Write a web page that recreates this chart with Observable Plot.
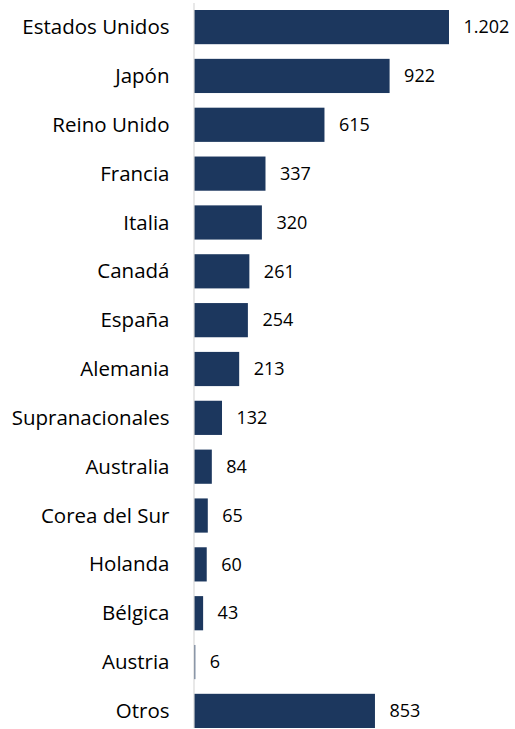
<!DOCTYPE html>
<html>
<head>
<meta charset="utf-8">
<script src="https://cdn.jsdelivr.net/npm/d3@7"></script>
<script src="https://cdn.jsdelivr.net/npm/@observablehq/plot@0.6"></script>
<style>
  html, body { margin: 0; padding: 0; background: #fff; }
  #chart svg { display: block; }
</style>
</head>
<body>
<div id="chart"></div>
<script>
const countries = ["Estados Unidos", "Japón", "Reino Unido", "Francia", "Italia", "Canadá", "España", "Alemania", "Supranacionales", "Australia", "Corea del Sur", "Holanda", "Bélgica", "Austria", "Otros"];
const values = [1202, 922, 615, 337, 320, 261, 254, 213, 132, 84, 65, 60, 43, 6, 853];

const data = countries.map((c, i) => ({country: c, value: values[i]}));
const fmt = d3.formatLocale({decimal: ",", thousands: ".", grouping: [3], currency: ["", "€"]}).format(",d");
const font = "'Open Sans', sans-serif";

const chart = Plot.plot({
  width: 515,
  height: 729,
  marginLeft: 194,
  marginRight: 66,
  marginTop: 10,
  marginBottom: 1,
  style: {fontFamily: font, background: "#fff"},
  x: {domain: [0, 1202], axis: null},
  y: {domain: countries, paddingInner: 0.3, paddingOuter: 0, round: false, axis: null},
  marks: [
    Plot.barX(data, {x: "value", y: "country", fill: "#1c375e"}),
    Plot.ruleX([0], {stroke: "#d9d9d9", strokeWidth: 1.2, dx: -0.5, insetTop: -7}),
    Plot.text(data, {x: 0, y: "country", text: "country", textAnchor: "end", dx: -25, fontSize: 20.5, fill: "#000"}),
    Plot.text(data, {x: "value", y: "country", text: d => fmt(d.value), textAnchor: "start", dx: 14, fontSize: 18, fill: "#000"})
  ]
});
document.getElementById("chart").appendChild(chart);
</script>
</body>
</html>
